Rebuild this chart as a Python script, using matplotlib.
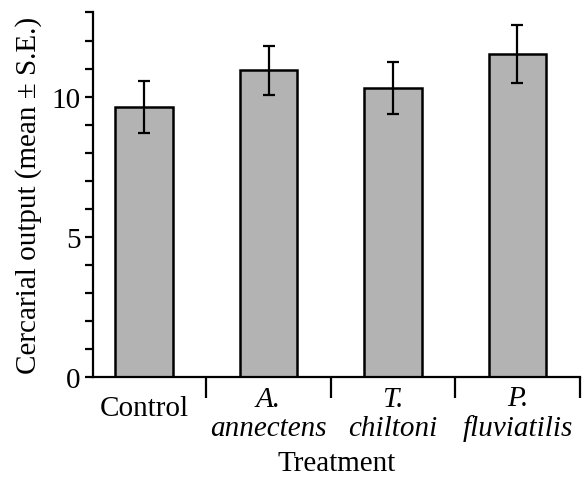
import matplotlib
matplotlib.use('Agg')
import matplotlib.pyplot as plt
from matplotlib.ticker import FixedLocator, MultipleLocator

plt.rcParams['font.family'] = ['Liberation Serif', 'DejaVu Serif']

treatments = ['Control', 'A.\nannectens', 'T.\nchiltoni', 'P.\nfluviatilis']
italic = [False, True, True, True]
means = [9.62, 10.94, 10.31, 11.52]
se = [0.93, 0.88, 0.93, 1.05]

fig = plt.figure(figsize=(5.85, 4.81), dpi=100)
ax = fig.add_axes([0.159, 0.214, 0.832, 0.758])

x = list(range(len(means)))
ax.bar(x, means, width=0.46, color='#b3b3b3', edgecolor='black', linewidth=1.8,
       yerr=se, capsize=4.5, error_kw=dict(elinewidth=1.6, capthick=1.6, ecolor='black'),
       zorder=2)

ax.set_xlim(-0.41, 3.5)
ax.set_ylim(0, 13)

for s in ['top', 'right']:
    ax.spines[s].set_visible(False)
for s in ['left', 'bottom']:
    ax.spines[s].set_linewidth(1.6)

# y ticks: every unit, labels at 0,5,10
ax.yaxis.set_major_locator(FixedLocator([0, 5, 10]))
ax.yaxis.set_minor_locator(MultipleLocator(1))
ax.tick_params(axis='y', which='both', direction='out', length=6, width=1.6, labelsize=21, pad=3)

# x: separator ticks between categories, labels drawn as text at centres
ax.xaxis.set_major_locator(FixedLocator([0.5, 1.5, 2.5, 3.5]))
ax.tick_params(axis='x', which='major', direction='out', length=15, width=1.6, labelbottom=False)
for xi, lab, it in zip(x, treatments, italic):
    ax.text(xi, -0.099 if it else -0.085, lab, transform=ax.get_xaxis_transform(),
            ha='center', va='center', fontsize=21, linespacing=1.15,
            fontstyle='italic' if it else 'normal')

ax.set_xlabel('Treatment', fontsize=21)
ax.xaxis.set_label_coords(0.5, -0.20)
ax.set_ylabel('Cercarial output (mean \u00b1 S.E.)', fontsize=21, labelpad=7)

fig.savefig('out.png', dpi=100)
